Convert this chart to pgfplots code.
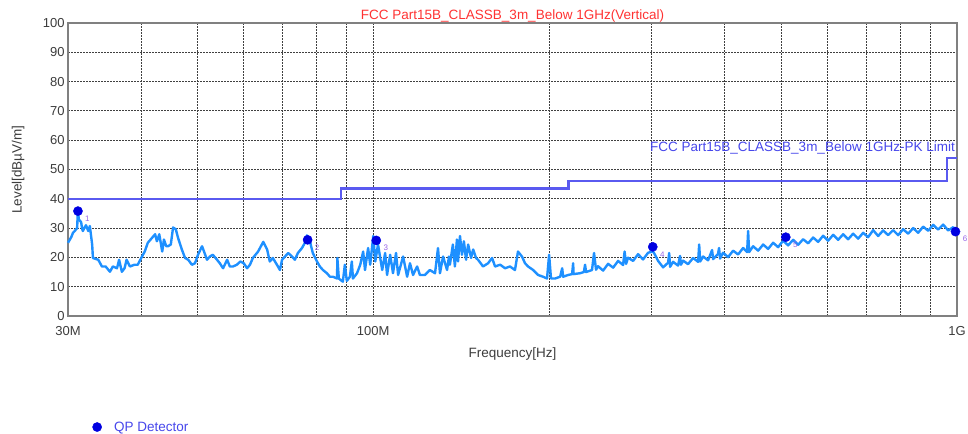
\documentclass[border=0pt]{standalone}
\usepackage{fontspec}
\setmainfont{Liberation Sans}
\usepackage{pgfplots}
\usepackage{pgfplotstable}
\pgfplotsset{compat=1.18}
\definecolor{trace}{RGB}{30,144,255}
\definecolor{limitc}{RGB}{90,90,240}
\definecolor{titlered}{RGB}{255,50,50}
\definecolor{qpblue}{RGB}{0,0,225}
\definecolor{legtext}{RGB}{70,70,235}
\definecolor{numc}{RGB}{150,100,230}
\definecolor{txt}{RGB}{60,60,60}

% frequency in MHz, level in dBuV/m
\pgfplotstableread{
f lvl
30.0 25.0
30.4 27.0
30.6 28.4
30.8 29.0
31.1 30.0
31.2 36.5
31.3 33.0
31.6 32.0
31.7 30.0
31.8 29.0
32.2 31.0
32.5 29.0
32.7 30.7
33.0 24.4
33.1 19.8
33.8 19.2
34.3 16.9
34.8 16.9
35.4 15.1
35.8 16.9
36.4 16.3
36.7 19.2
37.1 15.1
37.5 16.3
37.8 19.2
38.3 16.9
39.0 17.5
39.5 17.5
40.1 20.0
40.6 22.0
41.1 25.0
41.8 26.7
42.3 27.9
42.6 25.5
43.0 27.9
43.5 22.0
43.8 26.1
44.2 23.8
44.5 23.8
45.0 24.4
45.4 30.2
45.9 29.6
46.3 26.7
47.0 22.7
47.6 19.8
48.2 19.2
48.9 17.5
49.5 18.0
50.1 20.9
50.9 23.8
51.3 22.0
51.9 19.2
52.5 20.3
53.1 20.9
54.0 19.2
54.6 18.0
55.3 16.3
56.2 19.2
56.8 16.9
57.5 16.9
58.4 17.5
59.2 18.6
60.0 18.0
60.8 16.3
61.5 17.5
62.2 19.8
63.5 22.0
64.8 25.3
65.8 22.7
66.5 18.6
67.3 19.8
68.4 17.5
69.2 15.7
69.8 19.2
70.6 20.3
71.5 21.5
72.6 20.3
73.4 19.2
74.3 21.5
75.5 23.2
76.4 25.0
77.0 27.5
77.9 25.5
78.8 21.5
80.1 18.6
81.0 16.9
82.0 15.7
83.3 14.6
84.3 13.4
85.3 13.4
86.7 12.8
86.8 19.8
87.3 12.8
88.7 11.7
89.4 17.5
90.1 12.0
91.2 13.4
91.9 18.6
92.3 12.8
93.8 14.6
95.0 17.5
96.1 22.0
96.8 15.7
98.0 23.2
98.8 17.5
100.0 27.3
100.8 18.6
101.9 24.4
103.6 15.7
104.8 21.5
105.6 14.0
106.9 20.9
108.1 14.6
109.4 21.5
110.3 14.0
112.5 20.3
114.3 13.4
115.6 18.0
117.0 14.0
118.9 16.9
120.2 14.0
122.6 14.0
125.0 15.7
127.6 14.6
129.1 23.2
130.1 14.6
131.7 20.3
133.8 15.7
134.8 20.3
135.3 17.5
136.9 24.4
138.0 16.9
139.1 26.1
139.7 18.6
140.8 27.3
141.9 20.9
143.0 25.5
144.2 19.2
145.4 24.4
147.1 19.8
148.3 22.7
150.0 19.8
151.2 19.2
154.2 16.9
157.3 18.0
159.8 19.8
161.7 16.9
165.0 17.5
168.2 16.3
171.5 16.9
174.9 15.7
177.0 22.0
179.8 20.3
182.0 18.0
184.2 16.9
187.9 15.7
191.6 14.0
195.4 13.4
198.5 12.8
200.1 20.9
201.6 12.8
204.9 12.8
209.0 13.4
210.7 16.3
211.5 13.4
215.7 14.0
219.1 14.3
220.0 18.0
220.4 14.3
226.1 14.6
229.5 15.0
230.6 17.5
231.5 15.0
237.0 15.7
238.9 21.5
240.8 15.8
242.7 17.0
247.6 15.5
252.5 17.8
257.6 16.5
262.7 18.8
267.9 17.4
269.5 22.0
271.1 17.8
273.2 19.9
278.7 18.8
284.2 21.1
289.9 19.3
295.7 21.6
301.6 22.0
304.0 20.8
307.6 18.8
313.7 16.6
320.0 18.2
321.3 21.5
322.5 16.8
326.3 18.5
332.8 17.2
335.4 20.5
336.7 17.5
339.5 18.9
346.2 17.7
353.1 19.8
360.2 18.5
361.7 24.4
363.1 18.6
367.4 20.3
374.7 19.0
380.6 22.5
382.2 19.4
389.7 21.2
391.2 23.2
392.8 19.6
397.5 21.6
405.4 20.1
413.5 22.3
421.7 21.0
430.1 23.2
437.0 21.8
438.7 29.0
440.4 21.8
447.4 23.8
456.4 22.3
465.5 24.4
474.7 22.9
484.2 25.0
493.8 23.5
503.7 25.7
513.7 24.1
523.9 26.0
534.4 24.3
545.0 26.2
555.9 24.8
567.0 26.8
578.2 25.3
589.8 27.4
601.5 25.7
613.5 27.7
625.7 26.0
638.2 27.9
650.9 26.2
663.9 28.1
677.1 26.4
690.6 28.4
704.3 26.9
718.4 29.3
732.7 27.3
747.3 29.2
762.2 27.6
777.4 29.3
792.8 27.6
808.6 29.6
824.8 28.1
841.2 30.0
857.9 28.4
875.0 30.5
892.5 29.1
910.3 31.1
928.4 29.5
946.9 31.2
965.8 29.2
985.0 30.3
1000 29.0
}\scan

\pgfplotstableread{
f lvl n
31.2 35.8 1
77.2 26.0 2
101.2 25.8 3
301.2 23.6 4
509 26.9 5
994 28.8 6
}\qp

\begin{document}
\begin{tikzpicture}
\useasboundingbox (0bp,0bp) rectangle (968bp,434bp);
\begin{axis}[
  at={(68bp,118bp)}, anchor=south west,
  width=889bp, height=293bp, scale only axis,
  xmode=log, xmin=30, xmax=1000, ymin=0, ymax=100,
  xtick={30,100,1000}, xticklabels={30M,100M,1G},
  minor xtick={40,50,60,70,80,90,200,300,400,500,600,700,800,900},
  ytick={0,10,...,100},
  xmajorgrids, xminorgrids, ymajorgrids,
  major grid style={black!75, dash pattern=on 2bp off 1bp, line width=0.8bp},
  minor grid style={black!75, dash pattern=on 2bp off 1bp, line width=0.8bp},
  major tick length=0pt, minor tick length=0pt,
  axis line style={draw=gray, line width=1.2bp},
  tick label style={font=\fontsize{13bp}{15bp}\selectfont, text=txt},
  xticklabel style={yshift=-7bp},
  /pgf/number format/assume math mode=true,
  xlabel={Frequency[Hz]}, ylabel={Level[dBµV/m]},
  every axis x label/.style={at={(axis description cs:0.5,-0.13)}, anchor=center,
    font=\fontsize{13.5bp}{15bp}\selectfont, text=txt},
  every axis y label/.style={at={(axis description cs:-0.056,0.5)}, rotate=90, anchor=center,
    font=\fontsize{13.5bp}{15bp}\selectfont, text=txt},
  clip=false,
  legend image code/.code={\path[draw=none, fill=none] (0bp,0bp) -- (19bp,0bp); \draw[#1] plot coordinates {(4bp,0bp)};},
  legend style={draw=none, fill=none, at={(axis description cs:0.024,-0.379)}, anchor=west,
    font=\fontsize{13.5bp}{15bp}\selectfont, text=legtext},
]
\addplot[trace, line width=2.4bp, line join=round, forget plot] table[x=f, y=lvl] {\scan};
\addplot[limitc, line width=2.2bp, forget plot] coordinates {(30,40) (88,40) (88,43.5) (216,43.5) (216,46) (960,46) (960,54) (1000,54)};
\addplot[only marks, mark=*, mark size=4.6bp, color=qpblue,
  nodes near coords, point meta=explicit symbolic,
  nodes near coords style={anchor=center, inner sep=0pt, xshift=9.5bp, yshift=-7.5bp,
    font=\fontsize{8bp}{9bp}\selectfont, text=numc}]
  table[x=f, y=lvl, meta=n] {\qp};
\addlegendentry{QP Detector}
\node[anchor=base, text=titlered, font=\fontsize{13.5bp}{15bp}\selectfont, inner sep=0pt]
  at (rel axis cs:0.5,1) [yshift=3bp] {FCC Part15B\_CLASSB\_3m\_Below 1GHz(Vertical)};
\node[anchor=base east, text=legtext, font=\fontsize{13.5bp}{15bp}\selectfont, inner sep=0pt]
  at (rel axis cs:1,0.54) [xshift=-2bp, yshift=6bp] {FCC Part15B\_CLASSB\_3m\_Below 1GHz-PK Limit};
\end{axis}
\end{tikzpicture}
\end{document}
